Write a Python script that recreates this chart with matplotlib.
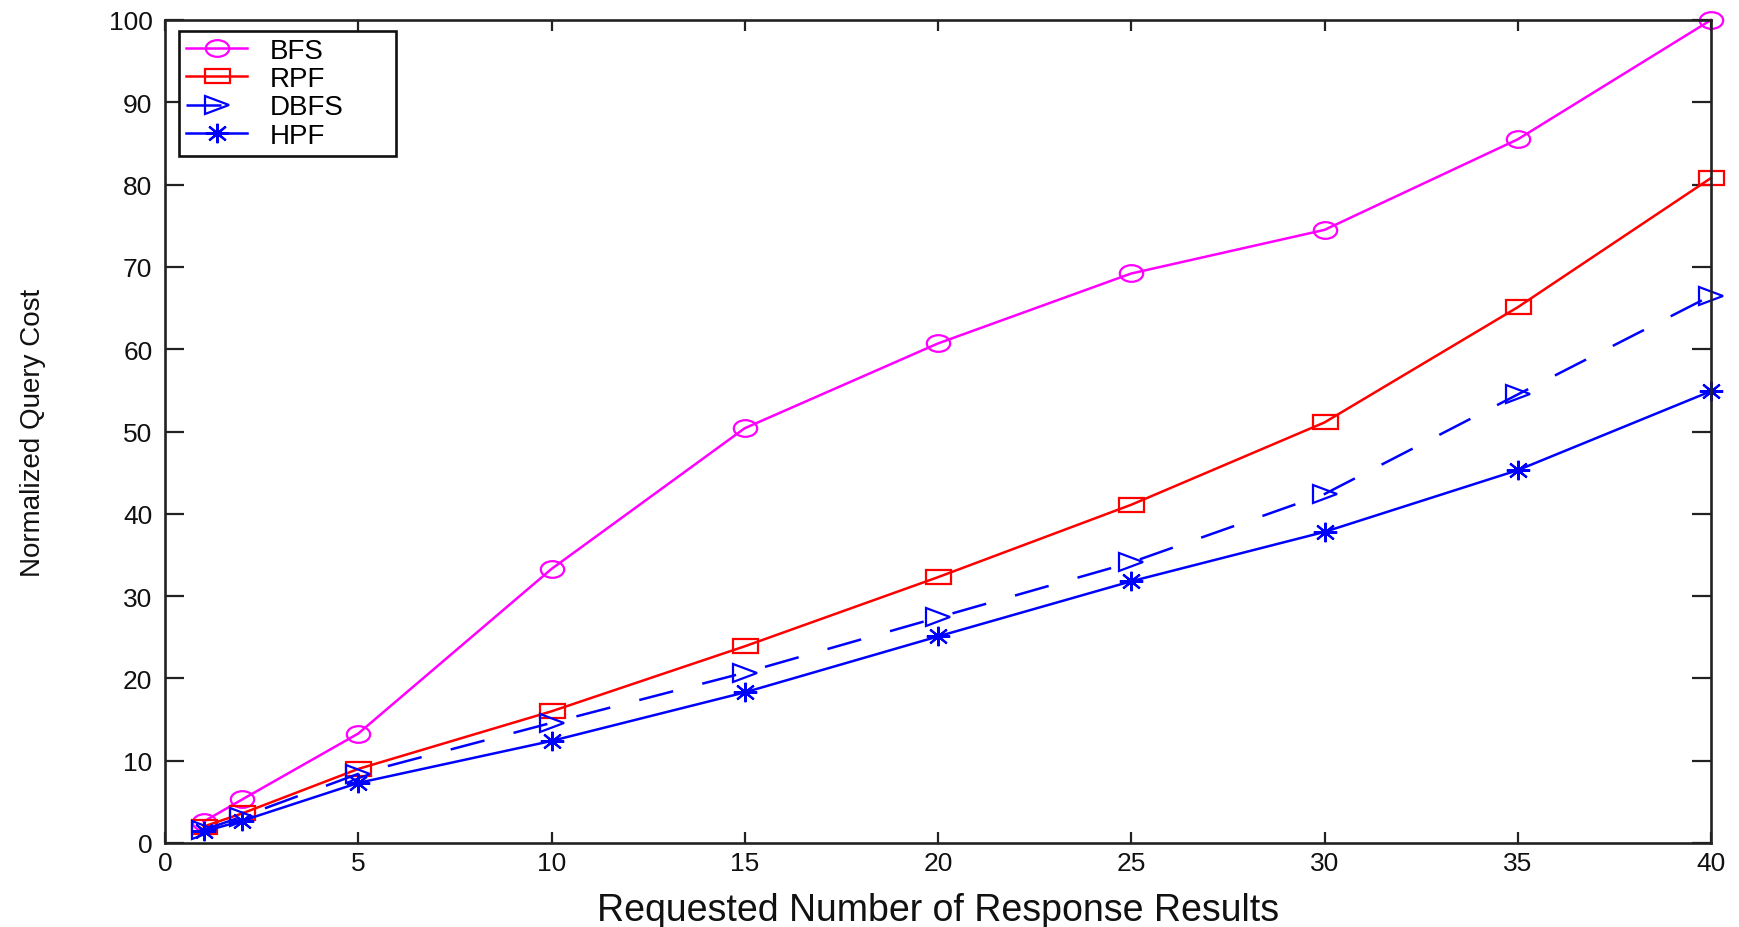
import matplotlib
matplotlib.use("Agg")
import matplotlib.pyplot as plt
from matplotlib.markers import MarkerStyle
from matplotlib.transforms import Affine2D

plt.rcParams['font.family'] = ['Liberation Sans', 'DejaVu Sans']

x_values = [1, 2, 5, 10, 15, 20, 25, 30, 35, 40]
bfs = [2.6, 5.3, 13.3, 33.3, 50.4, 60.7, 69.2, 74.5, 85.5, 100.0]
rpf = [2.0, 3.6, 9.0, 16.0, 23.9, 32.3, 41.1, 51.1, 65.1, 80.8]
dbfs = [1.6, 3.2, 8.4, 14.6, 20.7, 27.4, 34.1, 42.4, 54.5, 66.5]
hpf = [1.4, 2.7, 7.3, 12.4, 18.3, 25.1, 31.8, 37.8, 45.3, 54.9]
labels = ['BFS', 'RPF', 'DBFS', 'HPF']
x_ticks = [0, 5, 10, 15, 20, 25, 30, 35, 40]
y_ticks = [0, 10, 20, 30, 40, 50, 60, 70, 80, 90, 100]
xlabel = 'Requested Number of Response Results'
ylabel = 'Normalized Query Cost'

fig = plt.figure(figsize=(17.4, 9.28), dpi=100)
ax = fig.add_axes([165/1740, 1-844/928, (1711-165)/1740, (844-21)/928])

def stretched(m, sx):
    return MarkerStyle(m, transform=Affine2D().scale(sx, 1.0))

common = dict(lw=1.8, markerfacecolor='none', markeredgewidth=1.6, clip_on=False)
ax.plot(x_values, bfs, color='#FF00FF', marker=stretched('o', 1.4),
        markersize=12, label=labels[0], **common)
ax.plot(x_values, rpf, color='#FF0000', marker=stretched('s', 1.8),
        markersize=10, label=labels[1], **common)
ax.plot(x_values, dbfs, color='#0000FF', linestyle=(0, (14, 12)),
        marker=stretched('>', 1.3), markersize=13, label=labels[2], **common)
ax.plot(x_values, hpf, color='#0000FF', marker=stretched((8, 2, 0), 1.2),
        markersize=14, label=labels[3], **common)

ax.set_xlim(0, 40)
ax.set_ylim(0, 100)
ax.set_xticks(x_ticks)
ax.set_yticks(y_ticks)
ax.tick_params(axis='both', direction='in', top=True, right=True, width=1.6,
               labelsize=19, colors='#222222', labelcolor='#111111')
ax.tick_params(axis='x', length=8, pad=6)
ax.tick_params(axis='y', length=14, pad=9)
for s in ax.spines.values():
    s.set_linewidth(1.9)
    s.set_color('#222222')

ax.set_xlabel(xlabel, fontsize=27, color='#111111', va='center')
ax.xaxis.set_label_coords(0.5, -0.081)
ax.set_ylabel(ylabel, fontsize=20, color='#111111', va='center')
ax.yaxis.set_label_coords(-0.0854, 0.5)

leg = ax.legend(loc='upper left', bbox_to_anchor=(0.00906, 0.8408, 0.1404, 0.1458),
                mode='expand', borderaxespad=0,
                fontsize=20, numpoints=1, handlelength=2.2, handletextpad=0.8,
                labelspacing=0.08, borderpad=0.25, fancybox=False, framealpha=1,
                edgecolor='#111111')
leg.get_frame().set_linewidth(1.9)

fig.savefig('out.png', dpi=100, facecolor='white')
